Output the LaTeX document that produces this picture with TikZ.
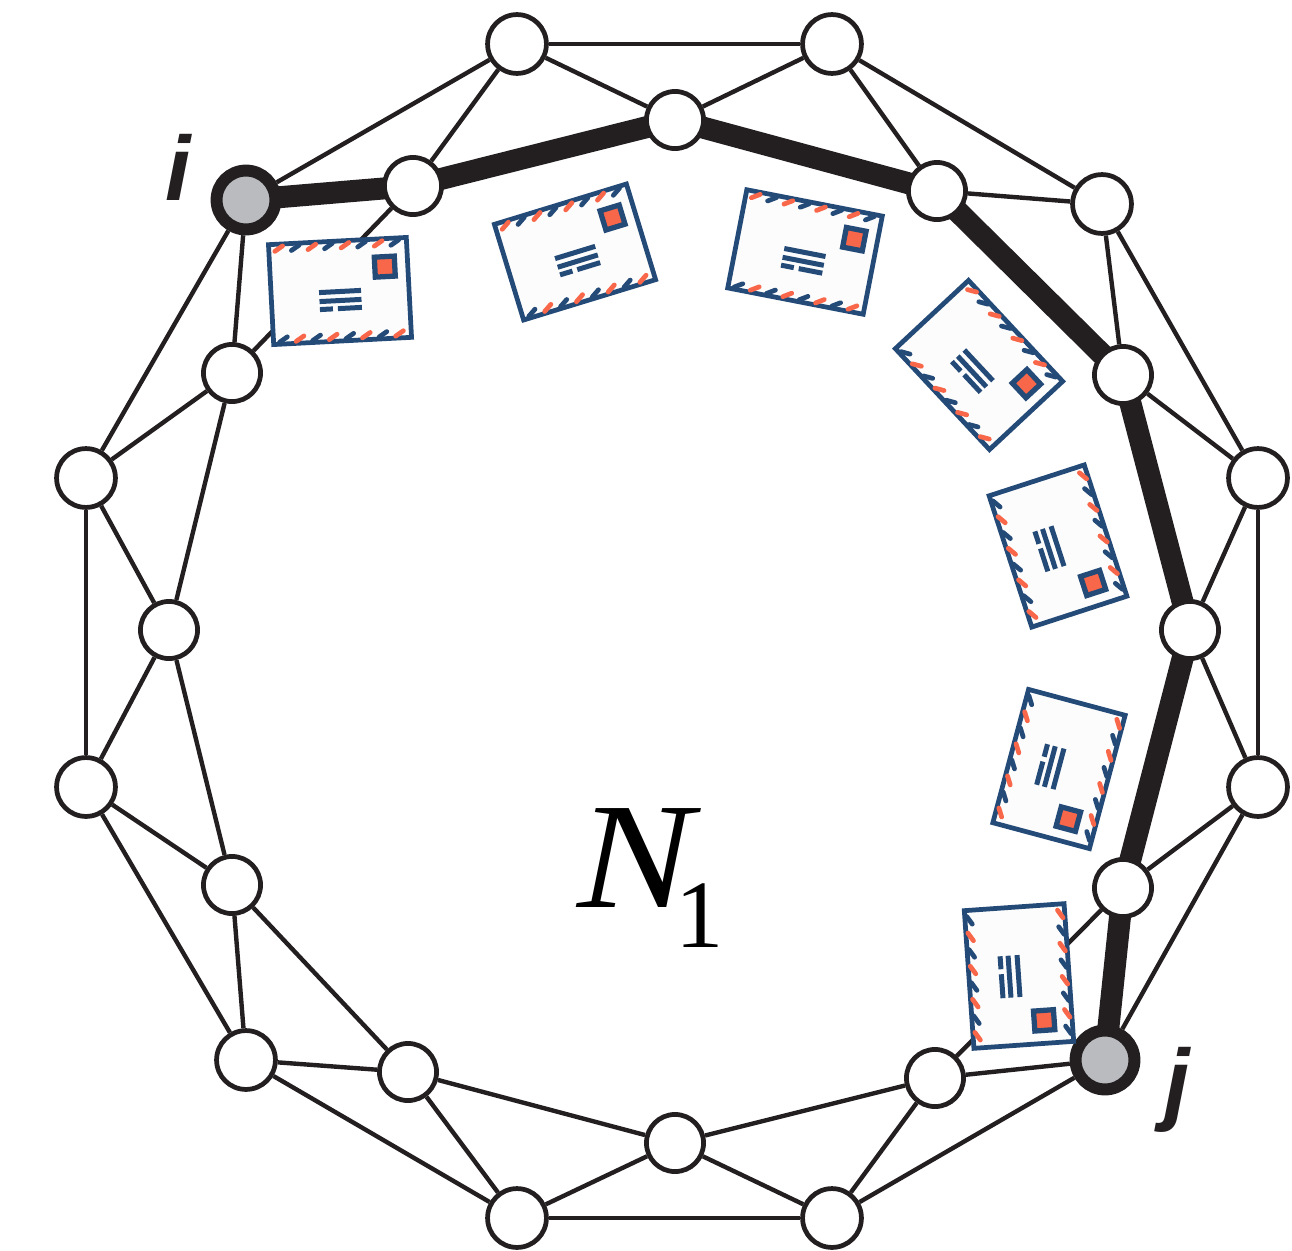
\documentclass[tikz,border=0pt]{standalone}
\usetikzlibrary{backgrounds}
\usepackage{fontspec}
\setmainfont{Liberation Serif}
\setsansfont{Liberation Sans}
\usepackage{xcolor}
\definecolor{inkblack}{RGB}{35,31,32}
\definecolor{endgray}{RGB}{185,187,190}
\definecolor{mailblue}{RGB}{36,74,120}
\definecolor{mailred}{RGB}{249,103,74}
\definecolor{mailwhite}{RGB}{252,252,252}
\tikzset{
  pics/envelope/.style={code={
    \draw[mailblue,fill=mailwhite,line width=2.7pt,miter limit=2] (-69,-50) rectangle (69,50);
    % Airmail ticks
    \foreach \i in {0,...,7}{
      \pgfmathsetmacro{\tx}{-63+16.6*\i}
      \pgfmathtruncatemacro{\odd}{mod(\i,2)}
      \ifnum\odd=0 \def\topcol{mailred}\def\botcol{mailblue}\else \def\topcol{mailblue}\def\botcol{mailred}\fi
      \draw[\topcol,line width=2.7pt,line cap=round] (\tx,-43) -- ++(8,-5);
      \draw[\botcol,line width=2.7pt,line cap=round] (\tx,48) -- ++(8,-5);
    }
    % Stamp and address
    \draw[mailblue,fill=mailred,line width=3pt] (36,-32) rectangle (56,-12);
    \fill[mailblue] (-21,-2) rectangle (21,3);
    \fill[mailblue] (-21,7) rectangle (21,12);
    \fill[mailblue] (-21,15) rectangle (-8,20);
    \fill[mailblue] (-3,15) rectangle (21,20);
  }}
}
\begin{document}
\begin{tikzpicture}[x=0.02cm,y=-0.02cm,
    station/.style={circle,draw=inkblack,fill=white,line width=2.7pt,minimum size=32.5pt,inner sep=0pt},
    rimstation/.style={station,minimum size=33.5pt},
    endpoint/.style={circle,draw=inkblack,fill=endgray,line width=6.8pt,minimum size=33.5pt,inner sep=0pt},
    link/.style={draw=inkblack,line width=2.5pt},
    route/.style={draw=inkblack,line width=12.5pt,shorten <=-3pt,shorten >=-3pt},
    endlabel/.style={font=\sffamily\bfseries\itshape\fontsize{52}{52}\selectfont,text=inkblack,inner sep=0pt},
  ]
  \useasboundingbox (0,0) rectangle (1292,1251);

  % Outer ring
  \foreach \name/\x/\y in {o1/517/44, o2/832/44, o3/1102/204, o4/1258/478, o5/1258/787,
      o7/832/1218, o8/517/1218, o9/246/1060, o10/86/787, o11/86/478}
    \node[rimstation] (\name) at (\x,\y) {};
  \node[endpoint] (o12) at (246,200) {};
  \node[endpoint] (o6) at (1105,1060) {};

  % Inner ring
  \foreach \name/\x/\y in {n1/675/120, n2/937/191, n3/1123/375, n4/1190/630, n5/1123/888,
      n6/935/1078, n7/675/1143, n8/408/1072, n9/232/885, n10/169/630, n11/232/373, n12/413/186}
    \node[station] (\name) at (\x,\y) {};

  \begin{scope}[on background layer]
    % Thin links
    \foreach \a/\b in {o1/o2, o2/o3, o3/o4, o4/o5, o5/o6, o6/o7, o7/o8, o8/o9, o9/o10, o10/o11,
        o11/o12, o12/o1, n5/n6, n6/n7, n7/n8, n8/n9, n9/n10, n10/n11, n11/n12,
        n1/o1, n1/o2, n2/o2, n2/o3, n3/o3, n3/o4, n4/o4, n4/o5, n5/o5, n6/o6, n6/o7,
        n7/o7, n7/o8, n8/o8, n8/o9, n9/o9, n9/o10, n10/o10, n10/o11, n11/o11, n11/o12, n12/o1}
      \draw[link] (\a) -- (\b);

    % Heavy route from i to j
    \foreach \a/\b in {o12/n12, n12/n1, n1/n2, n2/n3, n3/n4, n4/n5, n5/o6}
      \draw[route] (\a) -- (\b);
  \end{scope}

  % Envelopes
  \foreach \x/\y/\ang in {340/291/3, 575/252/17, 805/252/-11, 979/365/-47,
      1058/546/-72, 1059/769/-105, 1019/976/-86}
    \pic[rotate=\ang] at (\x,\y) {envelope};

  % Labels
  \node[endlabel] (ilabel) at (178,167) {i};
  \node[endlabel] (jlabel) at (1177,1090) {j};
  \node[inner sep=0pt,text=black] (netname) at (651,878)
    {\fontsize{86}{86}\selectfont\scalebox{1.15}[1]{\textit{N}}\kern-0.17em\raisebox{-0.27em}{\fontsize{55}{55}\selectfont 1}};
\end{tikzpicture}
\end{document}
